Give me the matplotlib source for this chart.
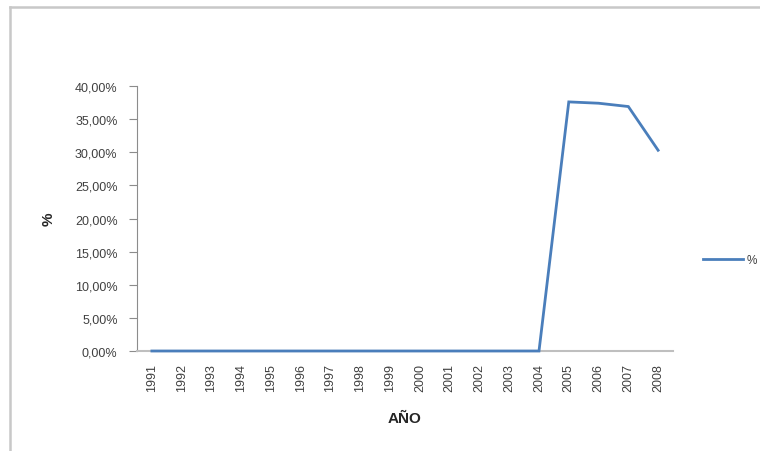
import matplotlib.pyplot as plt
from matplotlib.lines import Line2D
from matplotlib.ticker import FuncFormatter

# data
years = [str(y) for y in range(1991, 2009)]
pct = [0.0, 0.0, 0.0, 0.0, 0.0, 0.0, 0.0, 0.0, 0.0, 0.0, 0.0, 0.0, 0.0, 0.0,
       37.6, 37.4, 36.9, 30.3]
series_name = "%"

LINE = "#4A7EBB"
AXIS = "#8C8C8C"
TEXT = "#404040"

plt.rcParams["font.family"] = ["Liberation Sans", "DejaVu Sans"]

W, H = 760, 452
fig = plt.figure(figsize=(W / 100, H / 100), dpi=100)
ax = fig.add_axes([137 / W, 1 - 352 / H, (673 - 137) / W, (352 - 87) / H])

x = list(range(len(years)))
ax.plot(x, pct, color=LINE, linewidth=2.0, label=series_name,
        solid_joinstyle="miter", zorder=4, clip_on=False)

ax.set_xlim(-0.5, len(years) - 0.5)
ax.set_ylim(0, 40)
ax.set_yticks(range(0, 41, 5))
ax.yaxis.set_major_formatter(FuncFormatter(lambda v, _: f"{v:.2f}%".replace(".", ",")))
ax.set_xticks(x)
ax.set_xticklabels(years, rotation=90)

ax.tick_params(axis="y", length=6, color=AXIS, labelsize=9, labelcolor=TEXT, pad=8)
ax.tick_params(axis="x", length=0, labelsize=9, labelcolor=TEXT, pad=9)

for s in ["top", "right"]:
    ax.spines[s].set_visible(False)
ax.spines["left"].set_color(AXIS)
ax.spines["bottom"].set_color("#BFBFBF")
ax.spines["bottom"].set_linewidth(1.5)

ax.set_xlabel("AÑO", fontsize=11, fontweight="bold", color="#262626", labelpad=14)
ax.set_ylabel("%", fontsize=11, fontweight="bold", color="#262626", labelpad=14)

leg = fig.legend(loc="center left", bbox_to_anchor=(692 / W, 1 - 261 / H), frameon=False,
                 handlelength=3.4, handletextpad=0.3, fontsize=8.5)
for t in leg.get_texts():
    t.set_color(TEXT)

# outer chart frame (only top and left edges are in view)
fig.add_artist(Line2D([10 / W, 1], [1 - 8 / H, 1 - 8 / H], transform=fig.transFigure,
                      color="#C8C8C8", linewidth=1.8))
fig.add_artist(Line2D([10 / W, 10 / W], [0, 1 - 8 / H], transform=fig.transFigure,
                      color="#C8C8C8", linewidth=1.8))

fig.savefig("out.png", dpi=100, facecolor="white")
